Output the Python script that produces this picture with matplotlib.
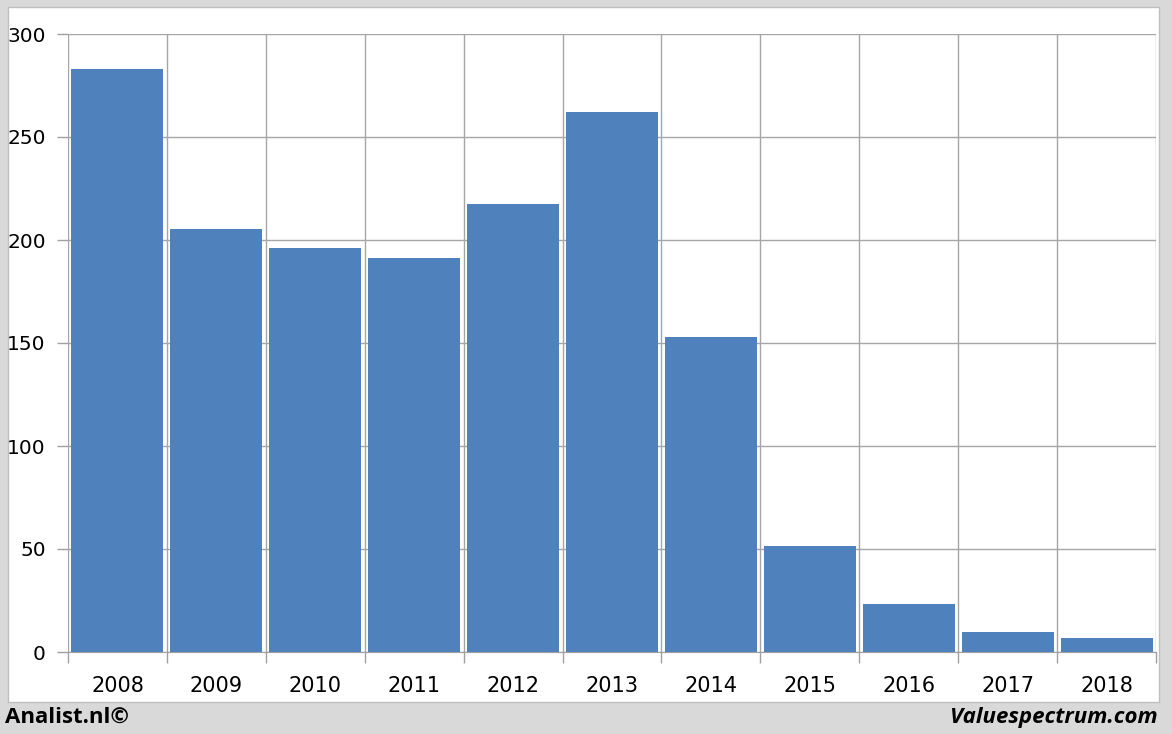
import matplotlib
matplotlib.use("Agg")
import matplotlib.pyplot as plt
from matplotlib.patches import Rectangle

years = ["2008", "2009", "2010", "2011", "2012", "2013", "2014", "2015", "2016", "2017", "2018"]
values = [283, 205.5, 196, 191.5, 217.5, 262, 153, 51.5, 23.5, 9.5, 7]
y_ticks = [0, 50, 100, 150, 200, 250, 300]

W, H = 1172, 734
fig = plt.figure(figsize=(W / 100, H / 100), dpi=100)
fig.patch.set_facecolor("#d9d9d9")

# white chart panel behind the axes
fig.patches.append(Rectangle((8 / W, 1 - 702 / H), (1159 - 8) / W, (702 - 7) / H,
                             transform=fig.transFigure, facecolor="white",
                             edgecolor="#bfbfbf", linewidth=1, zorder=-1))

ax = fig.add_axes([68 / W, 1 - 652 / H, (1156 - 68) / W, (652 - 34) / H])
ax.set_zorder(2)
ax.set_facecolor("white")
x = list(range(len(years)))
ax.bar(x, values, width=0.93, color="#4f81bd", zorder=3)

ax.set_xlim(-0.5, len(years) - 0.5)
ax.set_ylim(0, 300)
ax.set_yticks(y_ticks)
ax.set_yticklabels([str(v) for v in y_ticks])

# category boundaries: gridlines and ticks
bounds = [i - 0.5 for i in range(len(years) + 1)]
ax.set_xticks(bounds, minor=True)
ax.set_xticks(x)
ax.set_xticklabels(years)
ax.tick_params(axis="x", which="major", length=0, pad=17, labelsize=15)
ax.tick_params(axis="x", which="minor", length=8, color="#a0a0a0", width=1)
ax.tick_params(axis="y", length=8, color="#a0a0a0", width=1, pad=8, labelsize=14.5)
for b in bounds:
    ax.axvline(b, color="#a6a6a6", linewidth=1, zorder=1)
ax.grid(axis="y", color="#a6a6a6", linewidth=1, zorder=1)
ax.set_axisbelow(True)
for side in ["top", "right", "left"]:
    ax.spines[side].set_visible(False)
ax.spines["bottom"].set_color("#a0a0a0")
ax.spines["bottom"].set_zorder(4)

fig.text(5 / W, 1 - 717 / H, "Analist.nl©", fontsize=16, fontweight="bold",
         family="Open Sans", va="center", ha="left")
fig.text(1158 / W, 1 - 717 / H, "Valuespectrum.com", fontsize=16, fontweight="bold",
         style="italic", family="Open Sans", va="center", ha="right")

fig.savefig("out.png", dpi=100, facecolor=fig.get_facecolor())
